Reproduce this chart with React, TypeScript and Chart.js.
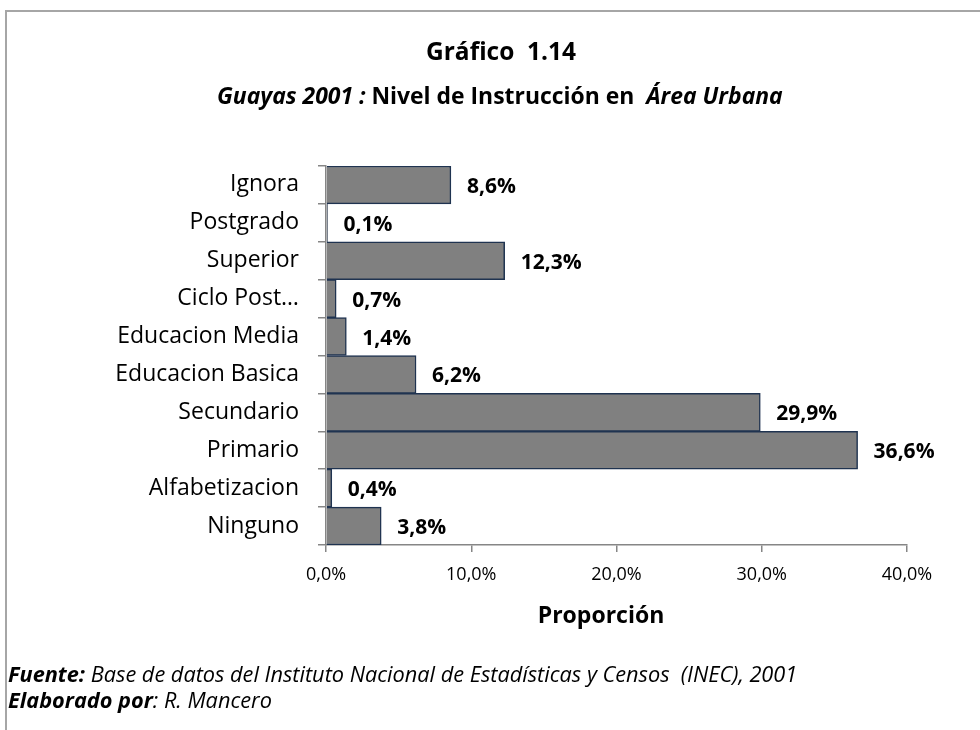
import React, { useEffect, useRef } from "react";
import { Chart, registerables } from "chart.js";

Chart.register(...registerables);

const categories = [
  "Ignora",
  "Postgrado",
  "Superior",
  "Ciclo Post…",
  "Educacion Media",
  "Educacion Basica",
  "Secundario",
  "Primario",
  "Alfabetizacion",
  "Ninguno",
];
const values = [8.6, 0.1, 12.3, 0.7, 1.4, 6.2, 29.9, 36.6, 0.4, 3.8];
const xTicks = [0, 10, 20, 30, 40];

const chartTitle = "Gráfico  1.14";
const subtitleParts = [
  { text: "Guayas 2001 :", italic: true },
  { text: " Nivel de Instrucción en  ", italic: false },
  { text: "Área Urbana", italic: true },
];
const axisTitle = "Proporción";
const footer1 = [
  { text: "Fuente:", bold: true },
  { text: " Base de datos del Instituto Nacional de Estadísticas y Censos  (INEC), 2001", bold: false },
];
const footer2 = [
  { text: "Elaborado por", bold: true },
  { text: ": R. Mancero", bold: false },
];

const FONT = "'Open Sans', 'Noto Sans', sans-serif";
const fmt = (v: number) => v.toFixed(1).replace(".", ",") + "%";

function fitSize(ctx: any, parts: { text: string; font: (s: number) => string }[], target: number) {
  const base = 20;
  let w = 0;
  parts.forEach((p) => {
    ctx.font = p.font(base);
    w += ctx.measureText(p.text).width;
  });
  return (base * target) / w;
}

const decorPlugin = {
  id: "decor",
  beforeDraw(chart: any) {
    const ctx = chart.ctx;
    ctx.save();
    ctx.fillStyle = "#ffffff";
    ctx.fillRect(0, 0, chart.width, chart.height);
    ctx.strokeStyle = "#a6a6a6";
    ctx.lineWidth = 2;
    ctx.strokeRect(6, 11, chart.width + 20, chart.height + 20);
    ctx.restore();
  },
  afterDraw(chart: any) {
    const ctx = chart.ctx;
    ctx.save();
    ctx.fillStyle = "#000000";
    ctx.textBaseline = "middle";
    // title
    const tFont = (s: number) => `bold ${s}px ${FONT}`;
    const ts = fitSize(ctx, [{ text: chartTitle, font: tFont }], 150);
    ctx.font = tFont(ts);
    ctx.textAlign = "center";
    ctx.fillText(chartTitle, 501, 53);
    // subtitle
    ctx.textAlign = "left";
    const subParts = subtitleParts.map((p) => ({
      text: p.text,
      font: (s: number) => `${p.italic ? "italic " : ""}bold ${s}px ${FONT}`,
    }));
    const ss = fitSize(ctx, subParts, 566);
    let x = 217;
    subParts.forEach((p) => {
      ctx.font = p.font(ss);
      ctx.fillText(p.text, x, 97);
      x += ctx.measureText(p.text).width;
    });
    // axis title
    ctx.font = `bold 23px ${FONT}`;
    ctx.textAlign = "center";
    ctx.fillText(axisTitle, 601, 616);
    // footer
    ctx.textAlign = "left";
    const mk = (parts: any[]) =>
      parts.map((p) => ({ text: p.text, font: (s: number) => `italic ${p.bold ? "bold " : ""}${s}px ${FONT}` }));
    const f1 = mk(footer1);
    const f2 = mk(footer2);
    const fs = fitSize(ctx, f1, 790);
    const drawLine = (parts: any[], y: number) => {
      let fx = 8;
      parts.forEach((p: any) => {
        ctx.font = p.font(fs);
        ctx.fillText(p.text, fx, y);
        fx += ctx.measureText(p.text).width;
      });
    };
    drawLine(f1, 676);
    drawLine(f2, 702);
    ctx.restore();
  },
  afterDatasetsDraw(chart: any) {
    const ctx = chart.ctx;
    const meta = chart.getDatasetMeta(0);
    ctx.save();
    ctx.fillStyle = "#000000";
    ctx.font = `bold 21px ${FONT}`;
    ctx.textAlign = "left";
    ctx.textBaseline = "middle";
    meta.data.forEach((bar: any, i: number) => {
      ctx.fillText(fmt(values[i]), bar.x + 16, bar.y + 2);
    });
    ctx.restore();
  },
};

export default function App() {
  const ref = useRef<HTMLCanvasElement | null>(null);
  useEffect(() => {
    if (!ref.current) return;
    const chart = new Chart(ref.current, {
      type: "bar",
      data: {
        labels: categories,
        datasets: [
          {
            data: values,
            backgroundColor: "#808080",
            borderColor: "#1f3350",
            borderWidth: 1.5,
            barPercentage: 1,
            categoryPercentage: 1,
          },
        ],
      },
      options: {
        indexAxis: "y",
        animation: false,
        responsive: true,
        maintainAspectRatio: false,
        layout: { padding: { left: 0, top: 166, right: 73, bottom: 85 } },
        plugins: { legend: { display: false }, tooltip: { enabled: false }, title: { display: false } },
        scales: {
          x: {
            min: 0,
            max: 40,
            afterFit(scale: any) {
              scale.height = 100;
            },
            afterBuildTicks(scale: any) {
              scale.ticks = xTicks.map((v) => ({ value: v }));
            },
            border: { display: true, color: "#868686", width: 1.5 },
            grid: { drawOnChartArea: false, drawTicks: true, tickLength: 7, color: "#868686", lineWidth: 1.5 },
            ticks: {
              color: "#000000",
              font: { family: FONT, size: 18 },
              padding: 12,
              maxRotation: 0,
              callback: (v: any) => fmt(Number(v)),
            },
          },
          y: {
            afterFit(scale: any) {
              scale.width = 326;
            },
            border: { display: true, color: "#868686", width: 1.5 },
            grid: { drawOnChartArea: false, drawTicks: true, tickLength: 8, color: "#868686", lineWidth: 1.5, offset: true },
            ticks: {
              color: "#000000",
              font: { family: FONT, size: 23 },
              padding: 19,
              autoSkip: false,
            },
          },
        },
      },
      plugins: [decorPlugin],
    } as any);
    return () => chart.destroy();
  }, []);
  return (
    <div style={{ position: "fixed", left: 0, top: 0, width: 980, height: 730, background: "#fff" }}>
      <canvas ref={ref} />
    </div>
  );
}
